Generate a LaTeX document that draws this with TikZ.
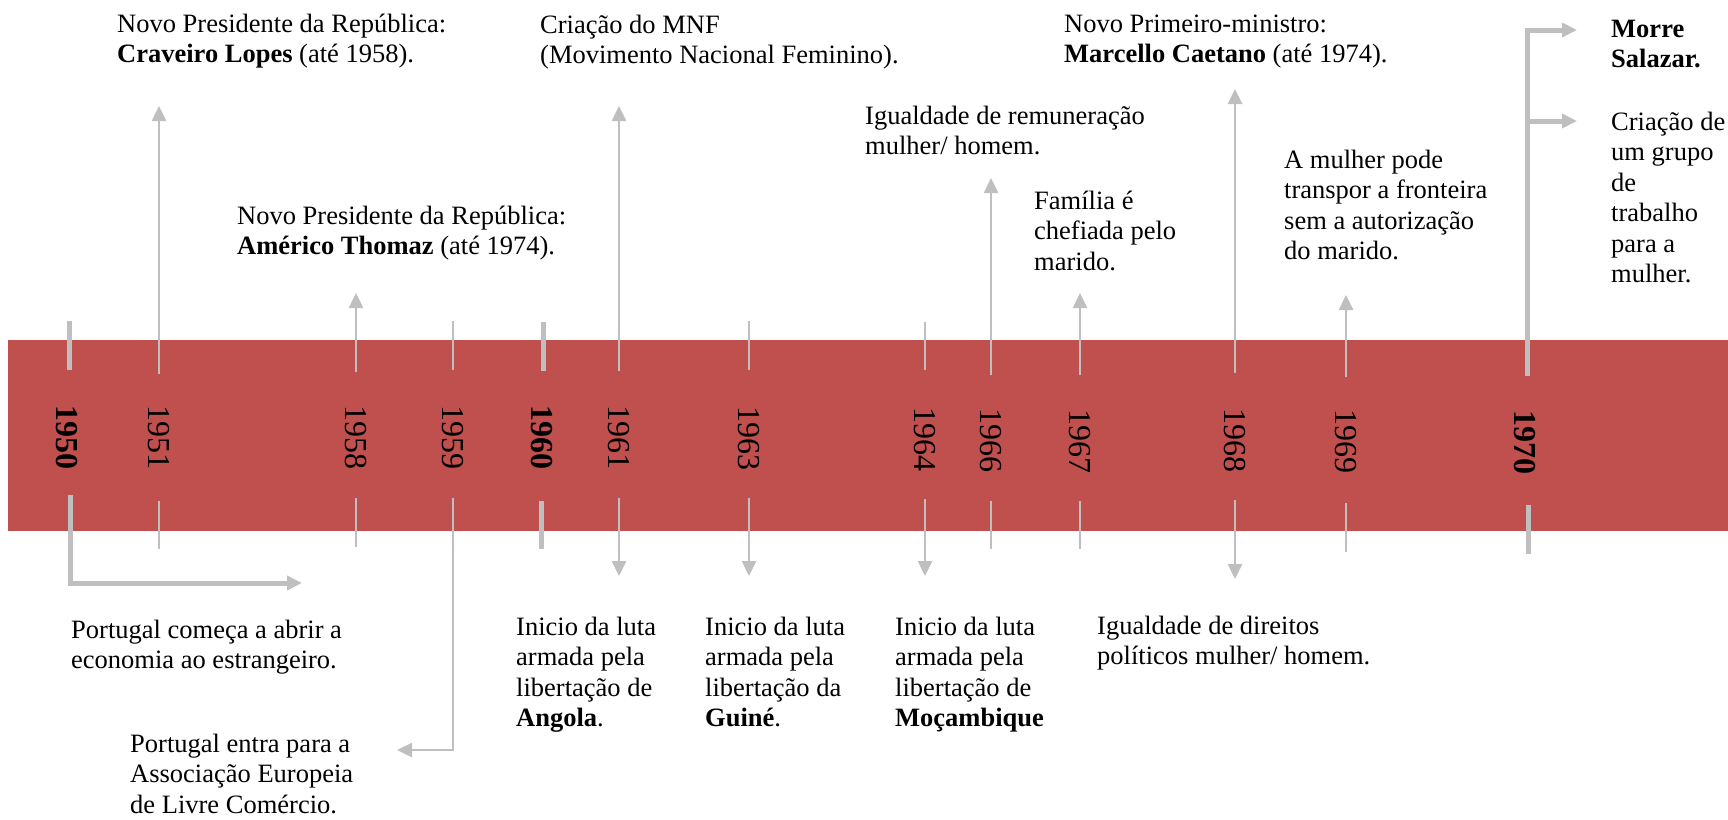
\documentclass[tikz,border=0pt]{standalone}
\usepackage{fontspec}
\setmainfont{Liberation Serif}
\usetikzlibrary{arrows.meta}
\definecolor{bandred}{HTML}{C0504D}
\definecolor{tickgrey}{HTML}{BFBFBF}
\begin{document}
\begin{tikzpicture}[x=1pt,y=-1pt,
  tkthin/.style={draw=tickgrey, line width=2.5pt},
  tkthick/.style={draw=tickgrey, line width=5pt},
  tipped/.style={-{Triangle[length=15pt,width=14pt]}},
  yearlbl/.style={rotate=-90, font=\fontsize{32}{36}\selectfont, inner sep=0pt},
  event/.style={anchor=base west, align=left, inner sep=0pt, font=\fontsize{26.5}{30.5}\selectfont},
]
\useasboundingbox (0,0) rectangle (1728,819);
% band
\fill[bandred] (8,340) rectangle (1728,531);

% year labels
\node[yearlbl] (y1950) at (67,437) {\textbf{1950}};
\node[yearlbl] (y1951) at (159,437) {1951};
\node[yearlbl] (y1958) at (356,437) {1958};
\node[yearlbl] (y1959) at (453,437) {1959};
\node[yearlbl] (y1960) at (542,437) {\textbf{1960}};
\node[yearlbl] (y1961) at (619,437) {1961};
\node[yearlbl] (y1963) at (749,438) {1963};
\node[yearlbl] (y1964) at (925,439) {1964};
\node[yearlbl] (y1966) at (991,440) {1966};
\node[yearlbl] (y1967) at (1080,441) {1967};
\node[yearlbl] (y1968) at (1235,440) {1968};
\node[yearlbl] (y1969) at (1346,441) {1969};
\node[yearlbl] (y1970) at (1525,442) {\textbf{1970}};

% coordinates
\coordinate (a50) at (69,321);  \coordinate (b50) at (69,370);
\coordinate (c50) at (70,495);  \coordinate (d50) at (70,583); \coordinate (f50) at (302,583);
\coordinate (a51) at (159,374); \coordinate (b51) at (159,106);
\coordinate (c51) at (159,501); \coordinate (d51) at (159,549);
\coordinate (a58) at (356,372); \coordinate (b58) at (356,293);
\coordinate (c58) at (356,498); \coordinate (d58) at (356,547);
\coordinate (a59) at (453,321); \coordinate (b59) at (453,370);
\coordinate (c59) at (453,498); \coordinate (d59) at (453,750); \coordinate (f59) at (397,750);
\coordinate (a60) at (543,322); \coordinate (b60) at (543,371);
\coordinate (c60) at (541,501); \coordinate (d60) at (541,549);
\coordinate (a61) at (619,371); \coordinate (b61) at (619,106);
\coordinate (c61) at (619,498); \coordinate (d61) at (619,576);
\coordinate (a63) at (749,321); \coordinate (b63) at (749,370);
\coordinate (c63) at (749,498); \coordinate (d63) at (749,576);
\coordinate (a64) at (925,322); \coordinate (b64) at (925,370);
\coordinate (c64) at (925,499); \coordinate (d64) at (925,576);
\coordinate (a66) at (991,375); \coordinate (b66) at (991,178);
\coordinate (c66) at (991,501); \coordinate (d66) at (991,549);
\coordinate (a67) at (1080,375); \coordinate (b67) at (1080,293);
\coordinate (c67) at (1080,501); \coordinate (d67) at (1080,549);
\coordinate (a68) at (1235,373); \coordinate (b68) at (1235,89);
\coordinate (c68) at (1235,500); \coordinate (d68) at (1235,579);
\coordinate (a69) at (1346,377); \coordinate (b69) at (1346,295);
\coordinate (c69) at (1346,503); \coordinate (d69) at (1346,552);
\coordinate (a70) at (1527,376); \coordinate (b70) at (1577,30);
\coordinate (m70) at (1527,121); \coordinate (n70) at (1577,121);
\coordinate (c70) at (1528,505); \coordinate (d70) at (1528,554);

% ticks and connectors
\draw[tkthick] (a50) -- (b50);
\draw[tkthick,tipped] (c50) -- (d50) -- (f50);
\draw[tkthin,tipped] (a51) -- (b51);
\draw[tkthin] (c51) -- (d51);
\draw[tkthin,tipped] (a58) -- (b58);
\draw[tkthin] (c58) -- (d58);
\draw[tkthin] (a59) -- (b59);
\draw[tkthin,tipped] (c59) -- (d59) -- (f59);
\draw[tkthick] (a60) -- (b60);
\draw[tkthick] (c60) -- (d60);
\draw[tkthin,tipped] (a61) -- (b61);
\draw[tkthin,tipped] (c61) -- (d61);
\draw[tkthin] (a63) -- (b63);
\draw[tkthin,tipped] (c63) -- (d63);
\draw[tkthin] (a64) -- (b64);
\draw[tkthin,tipped] (c64) -- (d64);
\draw[tkthin,tipped] (a66) -- (b66);
\draw[tkthin] (c66) -- (d66);
\draw[tkthin,tipped] (a67) -- (b67);
\draw[tkthin] (c67) -- (d67);
\draw[tkthin,tipped] (a68) -- (b68);
\draw[tkthin,tipped] (c68) -- (d68);
\draw[tkthin,tipped] (a69) -- (b69);
\draw[tkthin] (c69) -- (d69);
\draw[tkthick,tipped] (a70) |- (b70);
\draw[tkthick,tipped] (m70) -- (n70);
\draw[tkthick] (c70) -- (d70);

% events above (positions give the baseline of the last line)
\node[event] (e51) at (117,62.5) {Novo Presidente da República:\\\textbf{Craveiro Lopes} (até 1958).};
\node[event] (e58) at (237,254.5) {Novo Presidente da República:\\\textbf{Américo Thomaz} (até 1974).};
\node[event] (e61) at (540,63.5) {Criação do MNF\\(Movimento Nacional Feminino).};
\node[event] (e66) at (865,154.5) {Igualdade de remuneração\\mulher/ homem.};
\node[event] (e67) at (1034,270) {Família é\\chefiada pelo\\marido.};
\node[event] (e68) at (1064,62.5) {Novo Primeiro-ministro:\\\textbf{Marcello Caetano} (até 1974).};
\node[event] (e69) at (1284,259.5) {A mulher pode\\transpor a fronteira\\sem a autorização\\do marido.};
\node[event] (e70a) at (1611,67.5) {\textbf{Morre}\\\textbf{Salazar.}};
\node[event] (e70b) at (1611,282.5) {Criação de\\um grupo\\de\\trabalho\\para a\\mulher.};

% events below
\node[event] (e50) at (71,668.5) {Portugal começa a abrir a\\economia ao estrangeiro.};
\node[event] (e59) at (130,813) {Portugal entra para a\\Associação Europeia\\de Livre Comércio.};
\node[event] (e61b) at (516,726.5) {Inicio da luta\\armada pela\\libertação de\\\textbf{Angola}.};
\node[event] (e63) at (705,726.5) {Inicio da luta\\armada pela\\libertação da\\\textbf{Guiné}.};
\node[event] (e64) at (895,726.5) {Inicio da luta\\armada pela\\libertação de\\\textbf{Moçambique}};
\node[event] (e68b) at (1097,664.5) {Igualdade de direitos\\políticos mulher/ homem.};
\end{tikzpicture}
\end{document}
